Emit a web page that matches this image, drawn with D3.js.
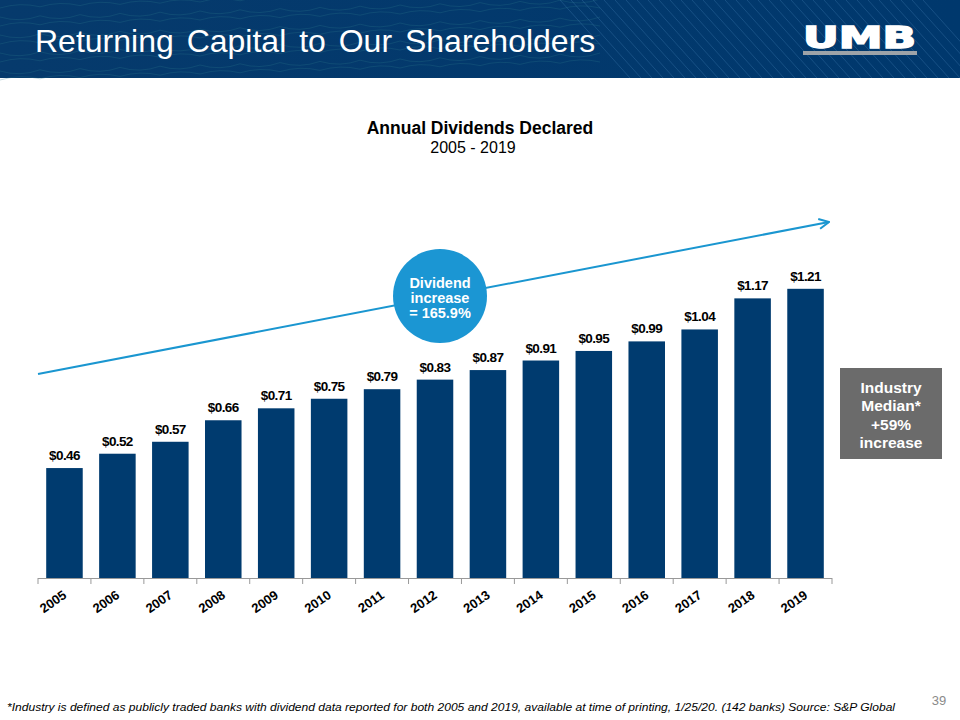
<!DOCTYPE html>
<html><head><meta charset="utf-8">
<script src="https://cdn.jsdelivr.net/npm/d3@7"></script>
<style>html,body{margin:0;padding:0;background:#fff;}svg{display:block;font-family:Arial,"Liberation Sans",sans-serif;}</style>
</head><body>
<script>
const years = ["2005","2006","2007","2008","2009","2010","2011","2012","2013","2014","2015","2016","2017","2018","2019"];
const dividends = [0.46,0.52,0.57,0.66,0.71,0.75,0.79,0.83,0.87,0.91,0.95,0.99,1.04,1.17,1.21];
const valueLabels = ["$0.46","$0.52","$0.57","$0.66","$0.71","$0.75","$0.79","$0.83","$0.87","$0.91","$0.95","$0.99","$1.04","$1.17","$1.21"];
const circleLines = ["Dividend","increase","= 165.9%"];
const boxLines = ["Industry","Median*","+59%","increase"];

const W=960,H=720;
const svg=d3.select("body").append("svg").attr("width",W).attr("height",H);
const defs=svg.append("defs");
const g1=defs.append("linearGradient").attr("id","hdr").attr("x1","0").attr("x2","1").attr("y1","0").attr("y2","0");
g1.append("stop").attr("offset","0").attr("stop-color","#063a6c");
g1.append("stop").attr("offset","1").attr("stop-color","#00386d");

// header
svg.append("rect").attr("x",0).attr("y",0).attr("width",W).attr("height",78).attr("fill","url(#hdr)");
const hdrLines=svg.append("g").attr("fill","none").attr("stroke","#2a7a8a").attr("stroke-opacity",0.35).attr("stroke-width",0.8);
for(let i=0;i<9;i++){
  const y0=8+i*9;
  let d="M0,"+y0;
  for(let x=0;x<=560;x+=40){d+=" Q"+(x+20)+","+(y0+(i%2?6:-6)-x*0.03)+" "+(x+40)+","+(y0-x*0.03-1.2);}
  hdrLines.append("path").attr("d",d);
}
const stripes=svg.append("g").attr("stroke","#3a75a8").attr("stroke-opacity",0.45).attr("stroke-width",0.9);
for(let i=0;i<34;i++){
  const x0=560+i*11;
  stripes.append("line").attr("x1",x0).attr("y1",0).attr("x2",x0+70).attr("y2",78);
}
svg.append("text").attr("x",35).attr("y",52).attr("fill","#fff").attr("font-size",32).attr("word-spacing",4).text("Returning Capital to Our Shareholders");
// logo
svg.append("text").attr("x",803).attr("y",48).attr("fill","#fff").attr("stroke","#fff").attr("stroke-width",1.6)
  .attr("font-size",31).attr("font-weight","bold").attr("font-family","'DejaVu Sans',Arial,sans-serif")
  .attr("textLength",113).attr("lengthAdjust","spacingAndGlyphs").text("UMB");
svg.append("rect").attr("x",803).attr("y",51).attr("width",114).attr("height",4).attr("fill","#9ea3a8");

// chart titles
svg.append("text").attr("x",480).attr("y",134).attr("text-anchor","middle").attr("font-size",17.5).attr("font-weight","bold").attr("fill","#000").text("Annual Dividends Declared");
svg.append("text").attr("x",473).attr("y",153).attr("text-anchor","middle").attr("font-size",16).attr("fill","#000").text("2005 - 2019");

// scales
const x=d3.scaleBand().domain(years).range([38,832]).paddingInner(0.31).paddingOuter(0.155);
const y=d3.scaleLinear().domain([0,1.5]).range([578,578-1.5*239]);

// arrow
defs.append("marker").attr("id","arr").attr("viewBox","0 0 12 12").attr("refX",11).attr("refY",6)
  .attr("markerWidth",12).attr("markerHeight",12).attr("markerUnits","userSpaceOnUse").attr("orient","auto")
  .append("path").attr("d","M1,1 L11,6 L1,11").attr("fill","none").attr("stroke","#1a96d0").attr("stroke-width",2);
svg.append("line").attr("x1",38).attr("y1",374).attr("x2",829).attr("y2",222)
  .attr("stroke","#1a96d0").attr("stroke-width",2).attr("marker-end","url(#arr)");

// bars
svg.append("g").selectAll("rect").data(dividends).join("rect")
  .attr("x",(d,i)=>x(years[i])).attr("width",x.bandwidth())
  .attr("y",d=>y(d)).attr("height",d=>y(0)-y(d)).attr("fill","#003b6f");
svg.append("g").selectAll("text").data(dividends).join("text")
  .attr("x",(d,i)=>x(years[i])+x.bandwidth()/2).attr("y",d=>y(d)-8)
  .attr("text-anchor","middle").attr("font-size",13.5).attr("font-weight","bold").attr("fill","#000")
  .attr("letter-spacing",-0.6)
  .text((d,i)=>valueLabels[i]);

// axis
const axisG=svg.append("g");
axisG.append("line").attr("x1",38).attr("x2",832).attr("y1",578.5).attr("y2",578.5).attr("stroke","#999").attr("stroke-width",1);
const tickPos=years.map(yv=>x(yv)-x.step()*x.paddingInner()/2).concat([832]);
axisG.selectAll("line.t").data(tickPos).join("line").attr("class","t")
  .attr("x1",d=>d).attr("x2",d=>d).attr("y1",578).attr("y2",584).attr("stroke","#999");
axisG.selectAll("text").data(years).join("text")
  .attr("transform",d=>`translate(${x(d)+x.bandwidth()/2+3},${597}) rotate(-35)`)
  .attr("text-anchor","end").attr("font-size",13).attr("font-weight","bold").attr("fill","#000").text(d=>d);

// circle
svg.append("circle").attr("cx",440).attr("cy",296).attr("r",47).attr("fill","#1b96d3");
svg.append("g").selectAll("text").data(circleLines).join("text")
  .attr("x",440).attr("y",(d,i)=>288+i*15).attr("text-anchor","middle").attr("fill","#fff")
  .attr("font-size",14.5).attr("font-weight","bold").text(d=>d);

// gray box
svg.append("rect").attr("x",840).attr("y",368).attr("width",102).attr("height",91).attr("fill","#6b6b6b");
svg.append("g").selectAll("text").data(boxLines).join("text")
  .attr("x",891).attr("y",(d,i)=>393+i*18.3).attr("text-anchor","middle").attr("fill","#fff")
  .attr("font-size",15.5).attr("font-weight","bold").text(d=>d);

// footnote
svg.append("text").attr("x",7).attr("y",711).attr("font-size",11.5).attr("font-style","italic").attr("fill","#000").attr("textLength",888).attr("lengthAdjust","spacingAndGlyphs")
  .text("*Industry is defined as publicly traded banks with dividend data reported for both 2005 and 2019, available at time of printing, 1/25/20. (142 banks) Source: S&P Global");
svg.append("text").attr("x",939).attr("y",705).attr("text-anchor","middle").attr("font-size",13).attr("fill","#8a8a8a").text("39");
</script>
</body></html>
